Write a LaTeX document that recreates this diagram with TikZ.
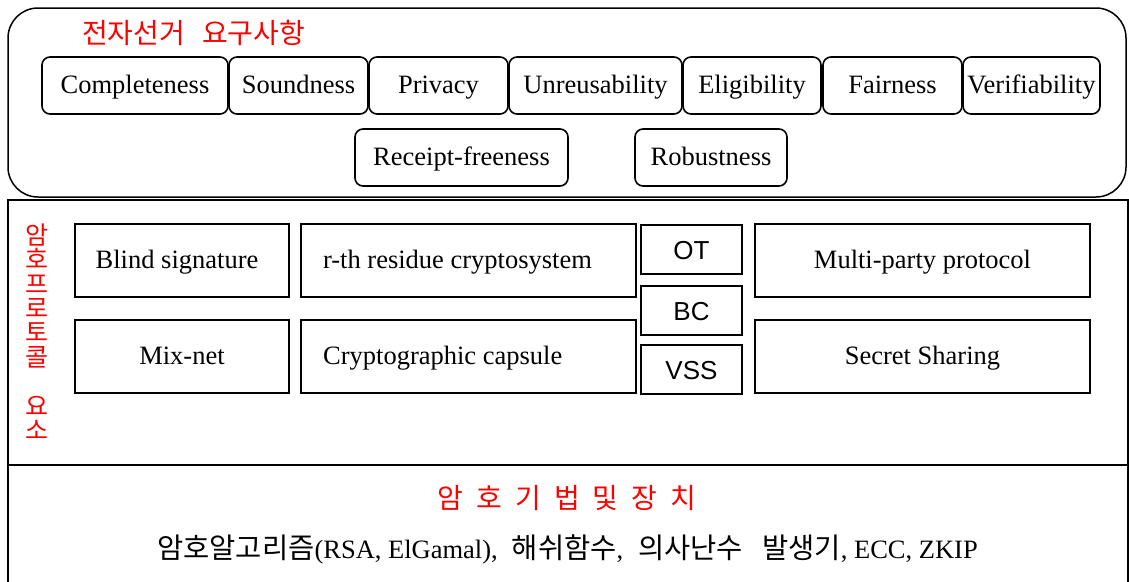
\documentclass[tikz,border=0pt]{standalone}
\usepackage{fontspec}
\setmainfont{Liberation Serif}
\newfontfamily\krfont{Noto Sans CJK KR}
\newfontfamily\arialfont{Liberation Sans}
\begin{document}
\begin{tikzpicture}[x=1pt,y=-1pt,
  req/.style={draw, line width=1.6pt, rounded corners=8pt, minimum height=57pt, inner sep=0pt, text height=19pt, text depth=4pt, font=\fontsize{26.5}{30}\selectfont},
  comp/.style={draw, line width=2.2pt, inner sep=0pt, minimum height=73pt, text height=19pt, text depth=4pt, font=\fontsize{26.5}{30}\selectfont},
  smallbox/.style={draw, line width=2pt, inner sep=0pt, minimum width=101pt, minimum height=49pt, text height=19pt, text depth=0pt, font=\arialfont\fontsize{26}{30}\selectfont},
  redlbl/.style={text=red, inner sep=0pt, font=\krfont\fontsize{28}{30}\selectfont},
  framebox/.style={draw, line width=1.5pt}]
\useasboundingbox (0,0) rectangle (1129,581);
% frames
\draw[framebox, rounded corners=30pt] (8,8) rectangle (1126,197);
\draw[framebox] (8,200) rectangle (1128,465);
\draw[framebox] (8,465) rectangle (1128,600);
\draw[line width=2pt] (8,465) -- (1128,465);
% title
\node[redlbl, anchor=west] (title) at (82,32.5) {전자선거\hspace{17pt}요구사항};
% requirements
\node[req, minimum width=186pt] (compl) at (135,85.5) {Completeness};
\node[req, minimum width=139pt] (sound) at (298.5,85.5) {Soundness};
\node[req, minimum width=139pt] (priv) at (438.5,85.5) {Privacy};
\node[req, minimum width=173pt] (unre) at (595.5,85.5) {Unreusability};
\node[req, minimum width=138pt] (elig) at (752,85.5) {Eligibility};
\node[req, minimum width=139pt] (fair) at (892.5,85.5) {Fairness};
\node[req, minimum width=137pt] (veri) at (1031.5,85.5) {Verifiability};
\node[req, minimum width=213pt] (rece) at (461.5,157.5) {Receipt-freeness};
\node[req, minimum width=152pt] (robu) at (711,157.5) {Robustness};
% protocol elements
\node[redlbl, align=center, font=\krfont\fontsize{25}{24.4}\selectfont] (proto) at (37,331.5) {암\\호\\프\\로\\토\\콜\\[24.4pt]요\\소};
\node[comp, minimum width=214pt] (blind) at (182,260.5) {Blind signature\rule{10pt}{0pt}};
\node[comp, minimum width=214pt] (mix) at (182,356.5) {Mix-net};
\node[comp, minimum width=335pt] (rth) at (468.5,260.5) {r-th residue cryptosystem\rule{22pt}{0pt}};
\node[comp, minimum width=335pt] (caps) at (468.5,356.5) {Cryptographic capsule\rule{51.5pt}{0pt}};
\node[smallbox] (ot) at (691.5,249.5) {OT};
\node[smallbox] (bc) at (691.5,310.5) {BC};
\node[smallbox] (vss) at (691.5,369.5) {VSS};
\node[comp, minimum width=335pt] (multi) at (922.5,260.5) {Multi-party protocol};
\node[comp, minimum width=335pt] (secret) at (922.5,356.5) {Secret Sharing};
% bottom
\node[redlbl] (tech) at (567,498) {암\hspace{13pt}호\hspace{13pt}기\hspace{13pt}법\hspace{13pt}및\hspace{13pt}장\hspace{13pt}치};
\node[inner sep=0pt, anchor=base west, font=\fontsize{26.5}{30}\selectfont] (algs) at (157,558) {{\krfont\fontsize{28.5}{30}\selectfont 암호알고리즘}(RSA, ElGamal),\hspace{14pt}{\krfont\fontsize{28.5}{30}\selectfont 해쉬함수},\hspace{15pt}{\krfont\fontsize{28.5}{30}\selectfont 의사난수}\hspace{19pt}{\krfont\fontsize{28.5}{30}\selectfont 발생기}, ECC, ZKIP};
\end{tikzpicture}
\end{document}
